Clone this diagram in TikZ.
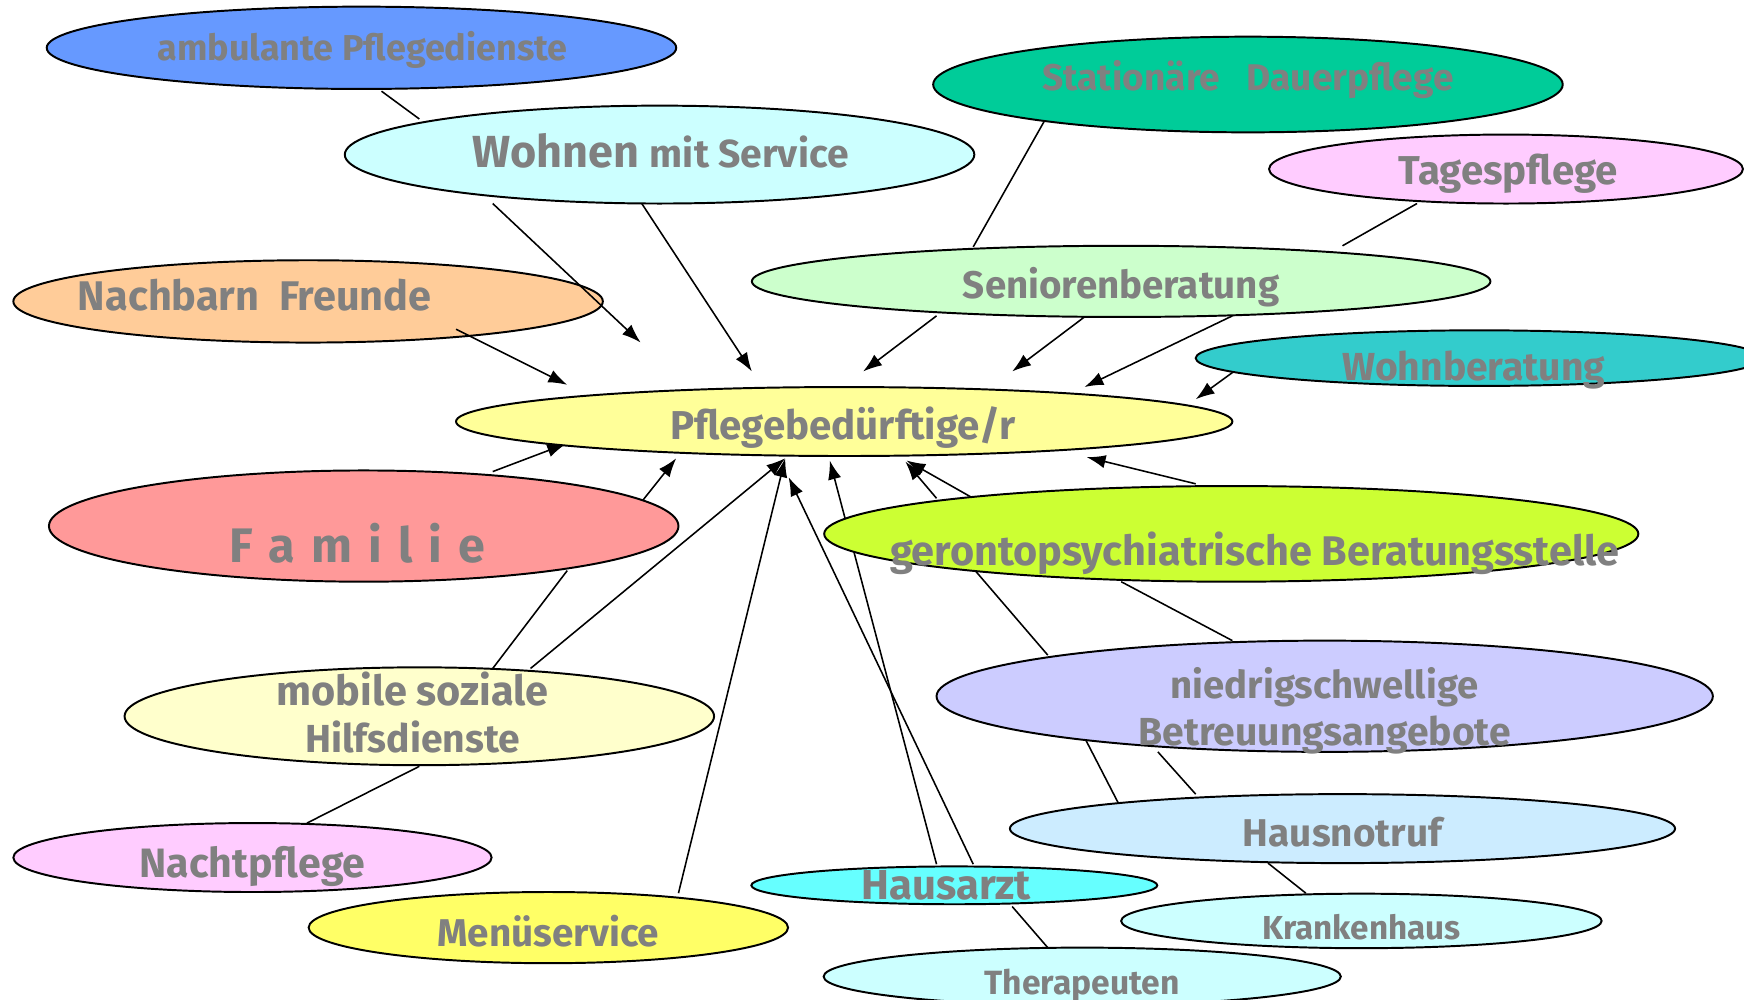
\documentclass[tikz,border=0pt]{standalone}
\usepackage{fontspec}
\setmainfont{Fira Sans}
\usetikzlibrary{shapes.geometric,arrows.meta,calc}
\pgfdeclarelayer{back}
\pgfsetlayers{back,main}

\definecolor{cAmb}{HTML}{6699FF}
\definecolor{cWms}{HTML}{CCFFFF}
\definecolor{cSta}{HTML}{00CC99}
\definecolor{cTag}{HTML}{FFCCFF}
\definecolor{cSen}{HTML}{CCFFCC}
\definecolor{cWob}{HTML}{33CCCC}
\definecolor{cNach}{HTML}{FFCC99}
\definecolor{cPb}{HTML}{FFFF99}
\definecolor{cFam}{HTML}{FF9999}
\definecolor{cGer}{HTML}{CCFF33}
\definecolor{cMob}{HTML}{FFFFCC}
\definecolor{cNie}{HTML}{CCCCFF}
\definecolor{cHnr}{HTML}{CCECFF}
\definecolor{cArzt}{HTML}{66FFFF}
\definecolor{cMen}{HTML}{FFFF66}
\definecolor{cTxt}{HTML}{808080}

\newcommand{\fsz}[2]{\fontsize{#1}{#2}\selectfont}

\tikzset{
  bub/.style={ellipse, draw, line width=0.5pt, inner sep=0pt},
  lbl/.style={text=cTxt, font=\bfseries, inner sep=0pt, anchor=base},
  con/.style={line width=0.4pt},
  arr/.style={con, -{Latex[length=1.7mm,width=1.2mm]}}
}

\begin{document}
\begin{tikzpicture}
  \useasboundingbox (0,0) rectangle (15.68,-8.99);
  \clip (0,0) rectangle (15.68,-8.99);

  % bubbles
  \node[bub,fill=cAmb,minimum width=5.66cm,minimum height=0.74cm] (amb) at (3.25,-0.43) {};
  \node[bub,fill=cWms,minimum width=5.66cm,minimum height=0.88cm] (wms) at (5.93,-1.39) {};
  \node[bub,fill=cSta,minimum width=5.66cm,minimum height=0.86cm] (sta) at (11.22,-0.76) {};
  \node[bub,fill=cTag,minimum width=4.26cm,minimum height=0.62cm] (tag) at (13.54,-1.52) {};
  \node[bub,fill=cSen,minimum width=6.64cm,minimum height=0.64cm] (sen) at (10.08,-2.53) {};
  \node[bub,fill=cWob,minimum width=5.10cm,minimum height=0.50cm] (wob) at (13.30,-3.22) {};
  \node[bub,fill=cNach,minimum width=5.30cm,minimum height=0.74cm] (nach) at (2.77,-2.71) {};
  \node[bub,fill=cPb,minimum width=6.98cm,minimum height=0.62cm] (pb) at (7.59,-3.79) {};
  \node[bub,fill=cFam,minimum width=5.66cm,minimum height=1.00cm] (fam) at (3.27,-4.73) {};
  \node[bub,fill=cGer,minimum width=7.32cm,minimum height=0.86cm] (ger) at (11.07,-4.80) {};
  \node[bub,fill=cMob,minimum width=5.30cm,minimum height=0.88cm] (mob) at (3.77,-6.44) {};
  \node[bub,fill=cNie,minimum width=6.98cm,minimum height=1.00cm] (nie) at (11.91,-6.26) {};
  \node[bub,fill=cTag,minimum width=4.30cm,minimum height=0.62cm] (ntp) at (2.27,-7.71) {};
  \node[bub,fill=cHnr,minimum width=5.98cm,minimum height=0.62cm] (hnr) at (12.07,-7.45) {};
  \node[bub,fill=cArzt,minimum width=3.65cm,minimum height=0.34cm] (arzt) at (8.58,-7.96) {};
  \node[bub,fill=cMen,minimum width=4.31cm,minimum height=0.64cm] (men) at (4.93,-8.34) {};
  \node[bub,fill=cWms,minimum width=4.32cm,minimum height=0.49cm] (kra) at (12.24,-8.28) {};
  \node[bub,fill=cWms,minimum width=4.65cm,minimum height=0.52cm] (ther) at (9.73,-8.78) {};

  % texts
  \node[lbl] (ambt) at (3.26,-0.54) {\fsz{9.2}{11}ambulante Pflegedienste};
  \node[lbl] (wmst) at (5.94,-1.51) {\fsz{11.5}{13}Wohnen \fsz{10}{12}mit Service};
  \node[lbl] (stat) at (11.22,-0.81) {\fsz{9.5}{11}Stationäre~~~Dauerpflege};
  \node[lbl] (tagt) at (13.56,-1.66) {\fsz{10.3}{12}Tagespflege};
  \node[lbl] (sent) at (10.08,-2.68) {\fsz{9.85}{12}Seniorenberatung};
  \node[lbl] (wobt) at (13.25,-3.42) {\fsz{10}{12}Wohnberatung};
  \node[lbl] (nacht) at (2.29,-2.79) {\fsz{10.6}{12}Nachbarn~~Freunde};
  \node[lbl] (pbt) at (7.58,-3.95) {\fsz{10.3}{12}Pflegebedürftige/r};
  \node[lbl] (famt) at (3.21,-5.06) {\fsz{12.4}{14}\spaceskip=4.1pt F a m i l i e};
  \node[lbl] (gert) at (11.28,-5.08) {\fsz{10.6}{12}gerontopsychiatrische Beratungsstelle};
  \node[lbl,anchor=center,align=center] (mobt) at (3.71,-6.41)
    {\fsz{10.6}{11.4}mobile soziale\\Hilfsdienste};
  \node[lbl,anchor=center,align=center] (niet) at (11.91,-6.39)
    {\fsz{9.8}{10.8}niedrigschwellige\\Betreuungsangebote};
  \node[lbl] (ntpt) at (2.27,-7.89) {\fsz{10.5}{12}Nachtpflege};
  \node[lbl] (hnrt) at (12.07,-7.61) {\fsz{9.9}{12}Hausnotruf};
  \node[lbl] (arztt) at (8.51,-8.09) {\fsz{10.7}{12}Hausarzt};
  \node[lbl] (ment) at (4.93,-8.51) {\fsz{9.9}{12}Menüservice};
  \node[lbl] (krat) at (12.24,-8.45) {\fsz{8.5}{10}Krankenhaus};
  \node[lbl] (thert) at (9.73,-8.94) {\fsz{8.6}{10}Therapeuten};

  % connectors behind the bubbles
  \begin{pgfonlayer}{back}
    \draw[con] ($(amb)+(0.18,-0.39)$) -- ($(wms)+(-2.16,0.32)$);
    \draw[con] ($(sta)+(-1.82,-0.31)$) -- ($(sen)+(-1.33,0.31)$);
    \draw[con] ($(tag)+(-0.80,-0.31)$) -- ($(sen)+(1.99,0.32)$);
    \draw[con] ($(mob)+(0.66,0.43)$) -- ($(fam)+(1.83,-0.40)$);
    \draw[con] ($(mob)+(0,-0.45)$) -- ($(ntp)+(0.49,0.31)$);
    \draw[con] ($(nie)+(-2.49,0.37)$) -- ($(ger)+(-2.32,-0.31)$);
    \draw[con] ($(ger)+(-0.99,-0.43)$) -- ($(nie)+(-0.83,0.50)$);
    \draw[con] ($(nie)+(-2.16,-0.37)$) -- ($(hnr)+(-1.99,0.18)$);
    \draw[con] ($(nie)+(-1.50,-0.50)$) -- ($(hnr)+(-1.32,0.31)$);
    \draw[con] ($(hnr)+(-0.67,-0.31)$) -- ($(kra)+(-0.50,0.25)$);
    \draw[con] ($(arzt)+(0.52,-0.19)$) -- ($(ther)+(-0.31,0.26)$);

    \draw[arr] ($(wms)+(-0.16,-0.44)$) -- ($(pb)+(-0.83,0.45)$);
    \draw[arr] ($(sen)+(-1.66,-0.31)$) -- ($(pb)+(0.17,0.45)$);
    \draw[arr] ($(sen)+(-0.33,-0.32)$) -- ($(pb)+(1.51,0.45)$);
    \draw[arr] ($(sen)+(1.00,-0.31)$) -- ($(pb)+(2.16,0.31)$);
    \draw[arr] ($(wob)+(-2.22,-0.13)$) -- ($(pb)+(3.16,0.20)$);
    \draw[arr] ($(fam)+(1.16,0.49)$) -- ($(pb)+(-2.50,-0.20)$);
    \draw[arr] ($(fam)+(2.50,0.22)$) -- ($(pb)+(-1.51,-0.33)$);
    \draw[arr] ($(mob)+(1.00,0.43)$) -- ($(pb)+(-0.53,-0.33)$);
    \draw[arr] ($(men)+(1.17,0.31)$) -- ($(pb)+(-0.53,-0.33)$);
    \draw[arr] ($(arzt)+(0.17,0.19)$) -- ($(pb)+(-0.50,-0.50)$);
    \draw[arr] ($(arzt)+(-0.16,0.19)$) -- ($(pb)+(-0.13,-0.35)$);
    \draw[arr] ($(ger)+(-2.65,0.32)$) -- ($(pb)+(0.55,-0.36)$);
    \draw[arr] ($(ger)+(-2.32,0.32)$) -- ($(pb)+(0.56,-0.35)$);
    \draw[arr] ($(ger)+(-0.32,0.45)$) -- ($(pb)+(2.18,-0.32)$);
  \end{pgfonlayer}

  % these two run over Nachbarn
  \draw[arr] ($(wms)+(-1.50,-0.44)$) -- ($(pb)+(-1.83,0.71)$);
  \draw[arr] ($(nach)+(1.33,-0.25)$) -- ($(pb)+(-2.49,0.33)$);
\end{tikzpicture}
\end{document}
